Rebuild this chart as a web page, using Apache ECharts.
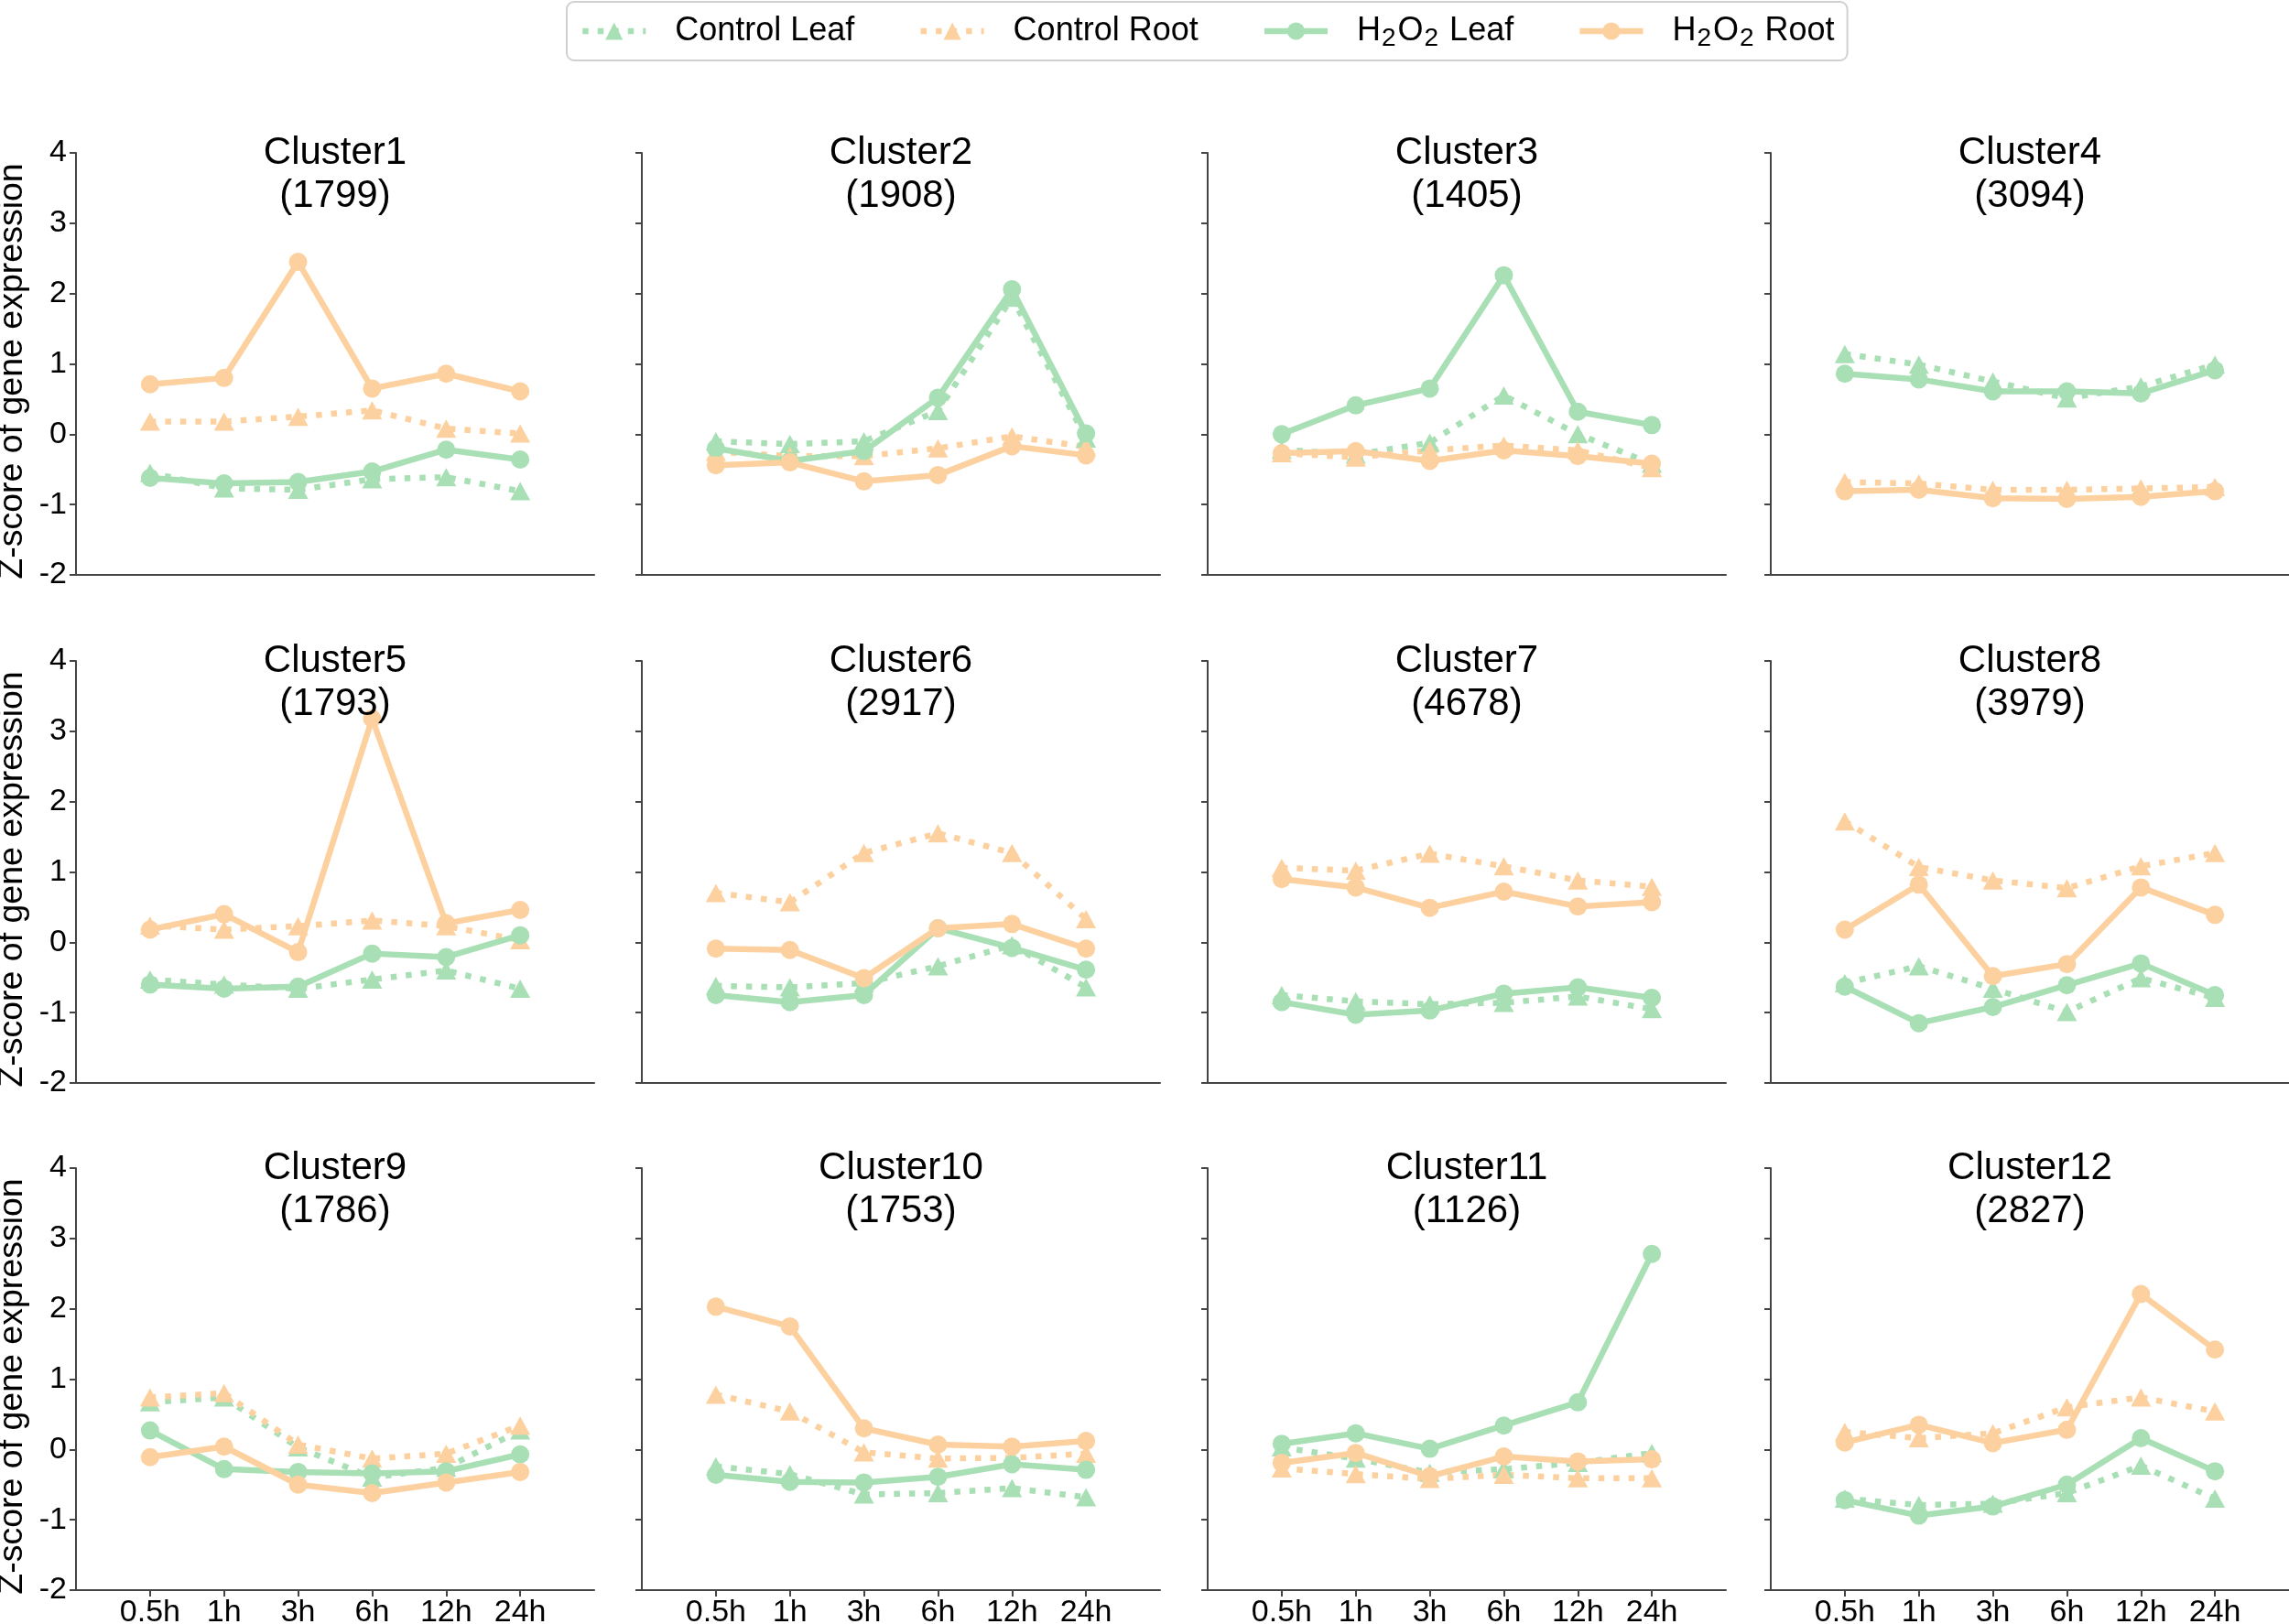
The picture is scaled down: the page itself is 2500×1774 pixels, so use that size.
<!DOCTYPE html>
<html><head><meta charset="utf-8">
<script src="https://cdn.jsdelivr.net/npm/echarts@6/dist/echarts.min.js"></script>
<style>html,body{margin:0;padding:0;background:#fff}#c{width:2500px;height:1774px}</style>
</head><body><div id="c"></div>
<script>
const times = ['0.5h', '1h', '3h', '6h', '12h', '24h'];
const clusterNames = ['Cluster1','Cluster2','Cluster3','Cluster4','Cluster5','Cluster6','Cluster7','Cluster8','Cluster9','Cluster10','Cluster11','Cluster12'];
const clusterCounts = [1799, 1908, 1405, 3094, 1793, 2917, 4678, 3979, 1786, 1753, 1126, 2827];
const yTicks = [-2, -1, 0, 1, 2, 3, 4];

const controlLeaf = [
  [-0.55,-0.77,-0.79,-0.64,-0.61,-0.81],
  [-0.10,-0.14,-0.10,0.33,1.94,-0.06],
  [-0.22,-0.29,-0.12,0.55,0.00,-0.42],
  [1.14,0.99,0.75,0.51,0.68,0.99],
  [-0.53,-0.60,-0.66,-0.53,-0.40,-0.66],
  [-0.62,-0.64,-0.58,-0.34,-0.04,-0.64],
  [-0.75,-0.84,-0.88,-0.86,-0.77,-0.95],
  [-0.58,-0.34,-0.66,-0.99,-0.51,-0.79],
  [0.67,0.74,0.03,-0.40,-0.26,0.27],
  [-0.24,-0.35,-0.64,-0.62,-0.55,-0.68],
  [0.03,-0.13,-0.33,-0.28,-0.19,-0.05],
  [-0.70,-0.79,-0.77,-0.62,-0.23,-0.70]
];
const controlRoot = [
  [0.18,0.18,0.25,0.34,0.08,0.01],
  [-0.25,-0.31,-0.31,-0.20,-0.03,-0.18],
  [-0.27,-0.33,-0.23,-0.16,-0.23,-0.48],
  [-0.68,-0.70,-0.79,-0.79,-0.77,-0.75],
  [0.24,0.18,0.23,0.31,0.23,0.03],
  [0.70,0.57,1.27,1.55,1.27,0.33],
  [1.06,1.02,1.26,1.08,0.88,0.79],
  [1.72,1.07,0.88,0.77,1.08,1.27],
  [0.74,0.80,0.07,-0.13,-0.06,0.34],
  [0.78,0.54,-0.04,-0.13,-0.12,-0.06],
  [-0.27,-0.35,-0.42,-0.36,-0.41,-0.41],
  [0.25,0.16,0.23,0.60,0.74,0.54]
];
const h2o2Leaf = [
  [-0.62,-0.70,-0.68,-0.53,-0.22,-0.36],
  [-0.20,-0.38,-0.24,0.52,2.06,0.01],
  [0.00,0.41,0.65,2.26,0.32,0.13],
  [0.86,0.78,0.61,0.61,0.58,0.91],
  [-0.60,-0.66,-0.63,-0.16,-0.21,0.10],
  [-0.75,-0.85,-0.75,0.20,-0.08,-0.39],
  [-0.85,-1.03,-0.97,-0.73,-0.64,-0.79],
  [-0.63,-1.15,-0.92,-0.61,-0.30,-0.75],
  [0.27,-0.28,-0.32,-0.34,-0.31,-0.07],
  [-0.36,-0.46,-0.47,-0.39,-0.21,-0.29],
  [0.08,0.23,0.01,0.34,0.67,2.78],
  [-0.72,-0.94,-0.81,-0.50,0.16,-0.31]
];
const h2o2Root = [
  [0.71,0.80,2.45,0.65,0.86,0.61],
  [-0.44,-0.40,-0.67,-0.58,-0.17,-0.30],
  [-0.27,-0.24,-0.38,-0.23,-0.31,-0.42],
  [-0.81,-0.79,-0.91,-0.92,-0.89,-0.81],
  [0.18,0.40,-0.14,3.18,0.27,0.46],
  [-0.09,-0.11,-0.51,0.20,0.26,-0.09],
  [0.90,0.78,0.49,0.72,0.51,0.57],
  [0.18,0.82,-0.48,-0.31,0.78,0.39],
  [-0.11,0.04,-0.50,-0.62,-0.47,-0.32],
  [2.03,1.75,0.30,0.07,0.04,0.12],
  [-0.19,-0.05,-0.38,-0.10,-0.17,-0.14],
  [0.10,0.35,0.09,0.28,2.21,1.42]
];

const seriesDefs = [
  {name: 'Control Leaf', data: controlLeaf, color: '#a8dfb4', dotted: true},
  {name: 'Control Root', data: controlRoot, color: '#fcd19f', dotted: true},
  {name: 'H\u2082O\u2082 Leaf', data: h2o2Leaf, color: '#a8dfb4', dotted: false},
  {name: 'H\u2082O\u2082 Root', data: h2o2Root, color: '#fcd19f', dotted: false}
];

const FONT = '"Liberation Sans", Arial, Helvetica, sans-serif';
const colLefts = [83, 701, 1319, 1934];
const rowTops = [167, 722, 1276];
const GW = 566, GH = 461;
const AXC = '#444';

const grids = [], xAxes = [], yAxes = [], series = [], titles = [];
for (let k = 0; k < 12; k++) {
  const r = Math.floor(k / 4), c = k % 4;
  grids.push({left: colLefts[c], top: rowTops[r], width: GW, height: GH, containLabel: false, outerBoundsMode: 'none'});
  const bottomRow = r === 2;
  xAxes.push({
    gridIndex: k, type: 'value', min: -1, max: 6, interval: 1,
    axisLine: {show: true, onZero: false, lineStyle: {color: AXC, width: 2}},
    axisTick: {show: bottomRow, length: 7, customValues: [0,1,2,3,4,5], lineStyle: {color: AXC, width: 2}},
    axisLabel: {show: bottomRow, customValues: [0,1,2,3,4,5], formatter: v => times[v] || '',
      fontSize: 34, color: '#000', fontFamily: FONT, margin: 8},
    splitLine: {show: false}
  });
  yAxes.push({
    gridIndex: k, type: 'value', min: -2, max: 4, interval: 1,
    name: c === 0 ? 'Z-score of gene expression' : '',
    nameLocation: 'middle', nameGap: 50,
    nameTextStyle: {fontSize: 37.5, color: '#000', fontFamily: FONT, padding: [0, 16, 0, 0]},
    axisLine: {show: true, onZero: false, lineStyle: {color: AXC, width: 2}},
    axisTick: {show: true, length: 7, lineStyle: {color: AXC, width: 2}},
    axisLabel: {show: c === 0, fontSize: 34, color: '#000', fontFamily: FONT, margin: 10,
      formatter: v => (yTicks.indexOf(v) >= 0 ? String(v) : '')},
    splitLine: {show: false}
  });
  titles.push({
    text: clusterNames[k] + '\n(' + clusterCounts[k] + ')',
    left: colLefts[c] + GW / 2, top: rowTops[r] - 23, textAlign: 'center', padding: 0,
    textStyle: {fontSize: 42, lineHeight: 47, fontWeight: 'normal', color: '#000', fontFamily: FONT}
  });
  seriesDefs.forEach(sd => {
    series.push({
      name: sd.name, type: 'line', xAxisIndex: k, yAxisIndex: k,
      data: sd.data[k].map((v, i) => [i, v]),
      symbol: sd.dotted ? 'triangle' : 'circle',
      symbolSize: sd.dotted ? [22, 20] : 20,
      showSymbol: true,
      lineStyle: {color: sd.color, width: 6.5, type: sd.dotted ? [6.5, 10] : 'solid', cap: 'butt'},
      itemStyle: {color: sd.color},
      emphasis: {disabled: true},
      animation: false,
      z: 2
    });
  });
}

const chart = echarts.init(document.getElementById('c'), null, {renderer: 'canvas'});
chart.setOption({
  backgroundColor: '#fff',
  animation: false,
  title: titles,
  legend: {
    top: 2, left: 619,
    data: seriesDefs.map(s => s.name),
    itemWidth: 69, itemHeight: 24, itemGap: 69,
    padding: [10, 14, 10, 14],
    borderColor: '#d0d0d0', borderWidth: 2, borderRadius: 8,
    lineStyle: {width: 6.5},
    formatter: n => n.replace(/\u2082/g, '{s|2}'),
    textStyle: {fontSize: 36, color: '#000', fontFamily: FONT, lineHeight: 44, padding: [0, 0, 0, 27],
      rich: {s: {fontSize: 28, lineHeight: 22, verticalAlign: 'bottom', color: '#000', fontFamily: FONT, padding: [0, 2, 0, 1]}}}
  },
  grid: grids, xAxis: xAxes, yAxis: yAxes, series: series
});
</script></body></html>
